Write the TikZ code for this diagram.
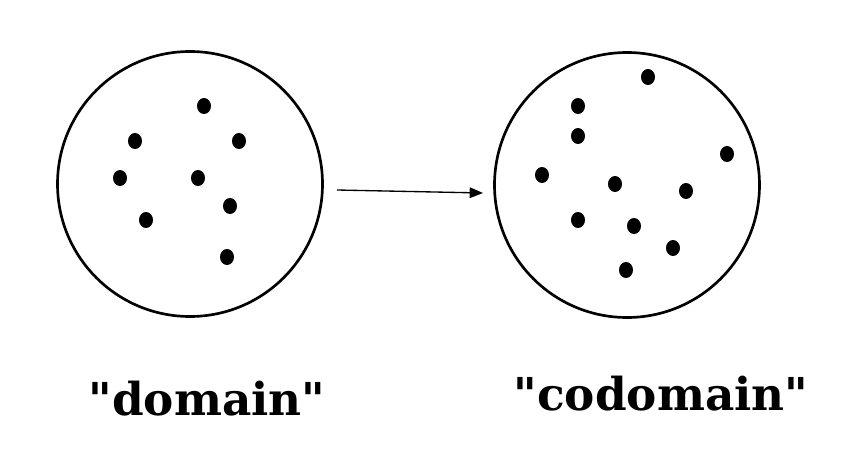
\documentclass[tikz,border=0pt]{standalone}
\usepackage{fontspec}
\setmainfont{DejaVu Serif}[Ligatures=TeXOff]
\usetikzlibrary{arrows.meta,positioning,shapes.geometric}

\begin{document}
\begin{tikzpicture}[x=0.75pt,y=-0.75pt,setc/.style={draw,circle,line width=2pt,minimum size=265*0.75pt,inner sep=0pt},pt/.style={fill,ellipse,minimum width=10.5pt,minimum height=12pt,inner sep=0pt},lbl/.style={font=\bfseries\fontsize{34}{36}\selectfont,anchor=base},arr/.style={-{Triangle[length=10pt,width=8pt]},line width=1pt}]
\useasboundingbox (0,0) rectangle (864,474);
\node[setc] (dom) at (190,184) {};
\node[setc] (cod) at (627,185) {};
% points in the domain
\foreach \x/\y [count=\i] in {204/106,135/141,239/141,120/178,198/178,230/206,146/220,227/257}
  \node[pt] (a\i) at (\x,\y) {};
% points in the codomain
\foreach \x/\y [count=\i] in {648/77,578/106,578/136,727/154,542/175,615/184,686/191,578/220,634/226,673/248,626/270}
  \node[pt] (b\i) at (\x,\y) {};
\coordinate (s) at (337,190);\coordinate (e) at (483,193);
\draw[arr](s)--(e);
\node[lbl] (ldom) at (207,415) {"domain"};
\node[lbl] (lcod) at (661,410) {"codomain"};
\end{tikzpicture}
\end{document}
